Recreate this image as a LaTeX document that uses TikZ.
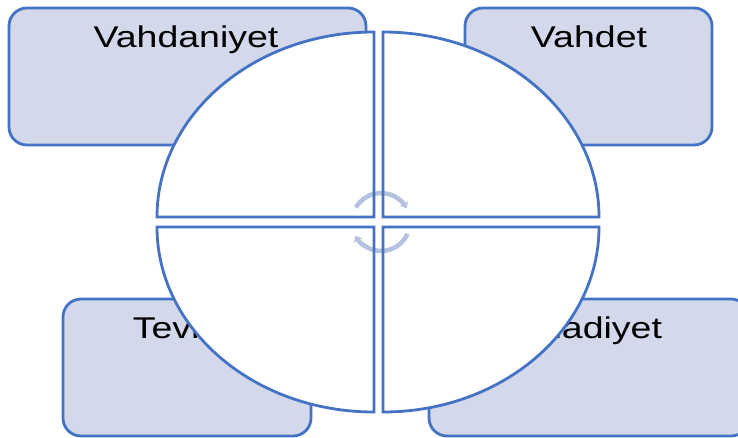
\documentclass[tikz,border=0pt]{standalone}
\usepackage{fontspec}
\newfontfamily\labelfont[FakeStretch=1.25]{Liberation Sans}
\usetikzlibrary{arrows.meta}
\definecolor{edgeblue}{RGB}{68,114,196}
\definecolor{boxfill}{RGB}{211,216,234}
\definecolor{cyclecol}{RGB}{180,193,225}
\tikzset{
  labelbox/.style={draw=edgeblue, fill=boxfill, line width=2.8pt, rounded corners=18pt},
  quadfill/.style={fill=white},
  quadline/.style={draw=edgeblue, line width=2.8pt, line join=miter},
  cyclearrow/.style={draw=cyclecol, line width=4.5pt, -{Stealth[length=6pt,width=10pt,inset=2pt]}},
  lbl/.style={anchor=base, inner sep=0pt, font=\labelfont\fontsize{30}{36}\selectfont, text=black}
}
\begin{document}
\begin{tikzpicture}[x=1pt,y=-1pt]
\useasboundingbox (0,0) rectangle (738,437);
\begin{scope}
\clip (0,0) rectangle (738,437);
% boxes
\draw[labelbox] (9,8) rectangle (366,145);
\draw[labelbox] (465,8) rectangle (712,145);
\draw[labelbox] (63,299) rectangle (311,436);
\draw[labelbox] (429,299) rectangle (749,436);
\node[lbl] (t1) at (186,47) {Vahdaniyet};
\node[lbl] (t2) at (589,47) {Vahdet};
\node[lbl] (t3) at (187,338) {Tevhid};
\node[lbl] (t4) at (589,338) {Ehadiyet};
% quadrant fills
\fill[quadfill] (374,217) -- (157,217) arc[start angle=180,end angle=270,x radius=217,y radius=185] -- cycle;
\fill[quadfill] (383,217) -- (383,32) arc[start angle=270,end angle=360,x radius=216,y radius=185] -- cycle;
\fill[quadfill] (374,227) -- (157,227) arc[start angle=180,end angle=90,x radius=217,y radius=185] -- cycle;
\fill[quadfill] (383,227) -- (599,227) arc[start angle=0,end angle=90,x radius=216,y radius=185] -- cycle;
% cycle arrows
\coordinate (c) at (381,222);
\draw[cyclearrow] ([shift={(-150:29)}]c) arc[start angle=-150,end angle=-28,radius=29];
\draw[cyclearrow] ([shift={(24:29)}]c) arc[start angle=24,end angle=152,radius=29];
% quadrant outlines
\draw[quadline] (374,217) -- (157,217) arc[start angle=180,end angle=270,x radius=217,y radius=185] -- cycle;
\draw[quadline] (383,217) -- (383,32) arc[start angle=270,end angle=360,x radius=216,y radius=185] -- cycle;
\draw[quadline] (374,227) -- (157,227) arc[start angle=180,end angle=90,x radius=217,y radius=185] -- cycle;
\draw[quadline] (383,227) -- (599,227) arc[start angle=0,end angle=90,x radius=216,y radius=185] -- cycle;
\end{scope}
\end{tikzpicture}
\end{document}
